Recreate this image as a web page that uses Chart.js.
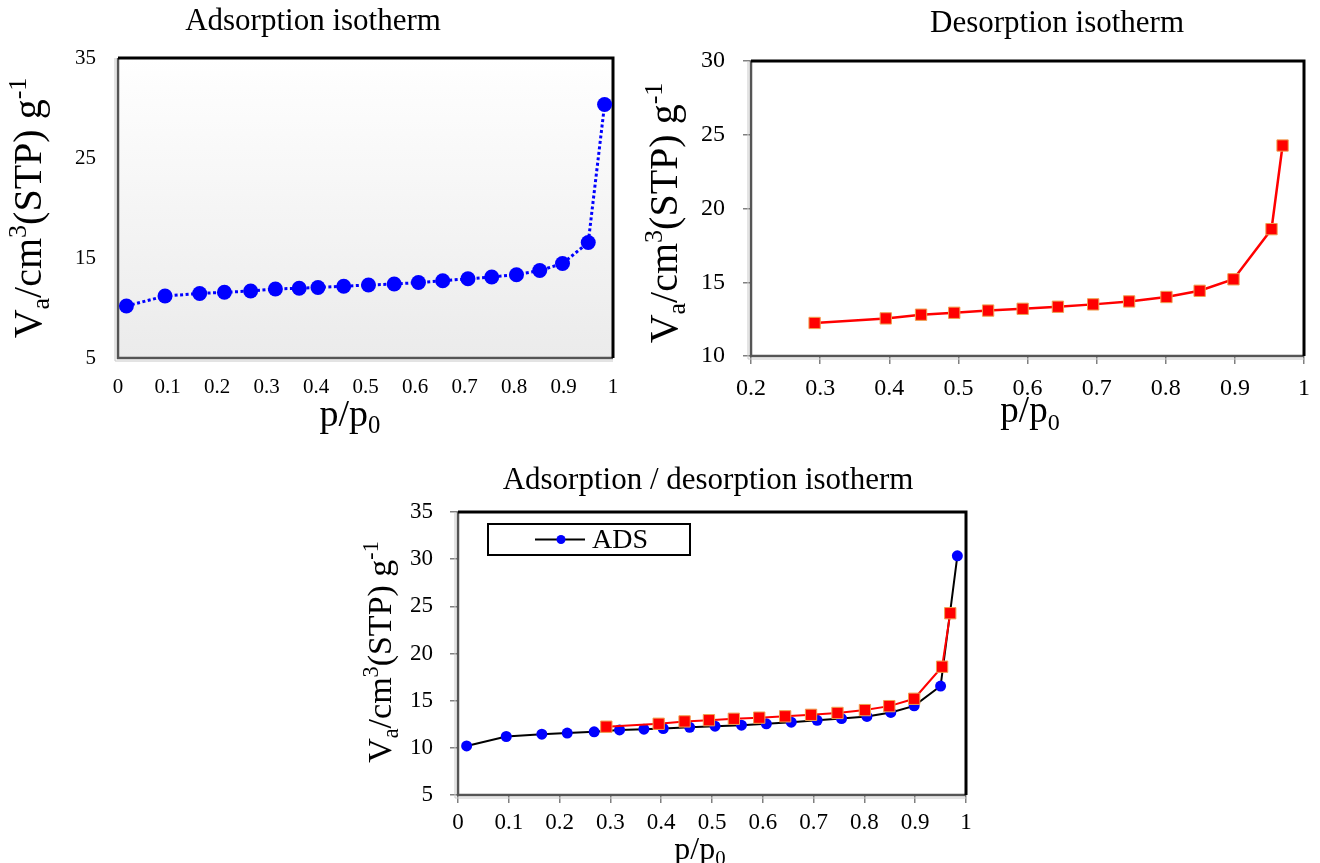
<!DOCTYPE html>
<html lang="en">
<head>
<meta charset="UTF-8">
<title>Isotherms</title>
<script src="https://cdn.jsdelivr.net/npm/chart.js"></script>
<style>
  body { margin: 0; background: #fff; }
  .wrap { position: relative; width: 1320px; height: 863px; }
  .wrap canvas { position: absolute; left: 0; top: 0; }
</style>
</head>
<body>
<div class="wrap">
  <canvas id="grafAds" width="1320" height="863"></canvas>
  <canvas id="grafDes" width="1320" height="863"></canvas>
  <canvas id="grafAmbos" width="1320" height="863"></canvas>
</div>
<script>
// adsorption branch: p/p0 and Va (cm3 STP / g)
const adsX = [0.017, 0.095, 0.165, 0.215, 0.268, 0.318, 0.366, 0.404, 0.456, 0.506,
              0.558, 0.607, 0.656, 0.707, 0.755, 0.805, 0.852, 0.898, 0.950, 0.983];
const adsY = [10.2, 11.2, 11.45, 11.57, 11.7, 11.9, 11.98, 12.05, 12.18, 12.3,
              12.4, 12.55, 12.72, 12.92, 13.1, 13.33, 13.75, 14.45, 16.55, 30.35];

// desorption branch
const desX = [0.292, 0.395, 0.446, 0.494, 0.543, 0.593, 0.644, 0.695, 0.747, 0.801,
              0.849, 0.898, 0.953, 0.969];
const desY = [12.24, 12.55, 12.8, 12.93, 13.08, 13.2, 13.34, 13.5, 13.7, 14.0,
              14.42, 15.2, 18.6, 24.27];

// tick labels
const xTicks01 = ['0', '0.1', '0.2', '0.3', '0.4', '0.5', '0.6', '0.7', '0.8', '0.9', '1'];
const xTicks21 = ['0.2', '0.3', '0.4', '0.5', '0.6', '0.7', '0.8', '0.9', '1'];
const yTicksAds = ['5', '15', '25', '35'];
const yTicksDes = ['10', '15', '20', '25', '30'];
const yTicksBoth = ['5', '10', '15', '20', '25', '30', '35'];

const serif = '"Liberation Serif", "Times New Roman", serif';
const yTitle = [['V'], ['a', 'sub'], ['/cm'], ['3', 'sup'], ['(STP) g'], ['-1', 'sup']];
const xTitle = [['p/p'], ['0', 'sub']];

function pontos(xs, ys) {
  return xs.map((x, i) => ({ x: x, y: ys[i] }));
}

// text with sub/superscripts, centred on (cx, cy)
function escreve(ctx, parts, cx, cy, size, rot) {
  ctx.save();
  ctx.translate(cx, cy);
  if (rot) ctx.rotate(-Math.PI / 2);
  ctx.fillStyle = '#000';
  ctx.textBaseline = 'alphabetic';
  ctx.textAlign = 'left';
  let total = 0;
  const pedacos = parts.map(p => {
    const s = p[1] ? size * 0.65 : size;
    ctx.font = s + 'px ' + serif;
    const w = ctx.measureText(p[0]).width;
    total += w;
    let dy = 0;
    if (p[1] === 'sub') dy = size * 0.2;
    if (p[1] === 'sup') dy = -size * 0.38;
    return { t: p[0], s: s, w: w, dy: dy };
  });
  let x = -total / 2;
  const base = size * 0.33;
  pedacos.forEach(m => {
    ctx.font = m.s + 'px ' + serif;
    ctx.fillText(m.t, x, base + m.dy);
    x += m.w;
  });
  ctx.restore();
}

// frame + optional grey gradient + titles
function enfeites(cfg) {
  return {
    id: 'enfeites',
    beforeDatasetsDraw(chart) {
      const ctx = chart.ctx;
      const a = chart.chartArea;
      ctx.save();
      if (cfg.fundo) {
        const g = ctx.createLinearGradient(0, a.top, 0, a.bottom);
        g.addColorStop(0, '#ffffff');
        g.addColorStop(1, '#ebebeb');
        ctx.fillStyle = g;
        ctx.fillRect(a.left, a.top, a.right - a.left, a.bottom - a.top);
      }
      // light shadow lines left / bottom
      ctx.strokeStyle = '#c8c8c8';
      ctx.lineWidth = 1;
      ctx.beginPath();
      ctx.moveTo(a.left - 3, a.top);
      ctx.lineTo(a.left - 3, a.bottom + 3);
      ctx.lineTo(a.right, a.bottom + 3);
      ctx.stroke();
      // dark grey left / bottom
      ctx.strokeStyle = '#555555';
      ctx.lineWidth = 2.5;
      ctx.beginPath();
      ctx.moveTo(a.left, a.top);
      ctx.lineTo(a.left, a.bottom);
      ctx.lineTo(a.right, a.bottom);
      ctx.stroke();
      // black top / right
      ctx.strokeStyle = '#000000';
      ctx.lineWidth = 3;
      ctx.beginPath();
      ctx.moveTo(a.left, a.top);
      ctx.lineTo(a.right, a.top);
      ctx.lineTo(a.right, a.bottom);
      ctx.stroke();
      ctx.restore();
    },
    afterDraw(chart) {
      const ctx = chart.ctx;
      ctx.save();
      ctx.fillStyle = '#000';
      ctx.font = cfg.titulo[3] + 'px ' + serif;
      ctx.textAlign = 'center';
      ctx.textBaseline = 'middle';
      ctx.fillText(cfg.titulo[0], cfg.titulo[1], cfg.titulo[2]);
      ctx.restore();
      escreve(ctx, yTitle, cfg.yt[0], cfg.yt[1], cfg.yt[2], true);
      escreve(ctx, xTitle, cfg.xt[0], cfg.xt[1], cfg.xt[2], false);
      if (cfg.legenda) {
        const L = cfg.legenda;
        ctx.save();
        ctx.fillStyle = '#fff';
        ctx.fillRect(L.x, L.y, L.w, L.h);
        ctx.strokeStyle = '#000';
        ctx.lineWidth = 2;
        ctx.strokeRect(L.x, L.y, L.w, L.h);
        const my = L.y + L.h / 2;
        ctx.beginPath();
        ctx.moveTo(L.x + 47, my);
        ctx.lineTo(L.x + 97, my);
        ctx.stroke();
        ctx.fillStyle = '#0000ff';
        ctx.beginPath();
        ctx.arc(L.x + 73, my, 4.5, 0, Math.PI * 2);
        ctx.fill();
        ctx.fillStyle = '#000';
        ctx.font = '28px ' + serif;
        ctx.textBaseline = 'middle';
        ctx.fillText('ADS', L.x + 104, my + 1);
        ctx.restore();
      }
    }
  };
}

function eixoX(min, max, step, labels, size, tick, pad, h) {
  return {
    type: 'linear', min: min, max: max,
    afterFit: s => { s.height = h; },
    grid: { display: tick > 0, drawOnChartArea: false, drawTicks: tick > 0, tickLength: tick, color: '#808080', lineWidth: 1.5 },
    border: { display: false },
    ticks: { stepSize: step, padding: pad, color: '#000', maxRotation: 0, autoSkip: false,
             font: { family: serif, size: size }, callback: (v, i) => labels[i] }
  };
}

function eixoY(min, max, step, labels, size, tick, pad, w) {
  return {
    type: 'linear', min: min, max: max,
    afterFit: s => { s.width = w; },
    grid: { display: tick > 0, drawOnChartArea: false, drawTicks: tick > 0, tickLength: tick, color: '#808080', lineWidth: 1.5 },
    border: { display: false },
    ticks: { stepSize: step, padding: pad, color: '#000', autoSkip: false,
             font: { family: serif, size: size }, callback: (v, i) => labels[i] }
  };
}

function base(padding, scales) {
  return {
    responsive: false,
    animation: false,
    devicePixelRatio: 1,
    layout: { padding: padding, autoPadding: false },
    plugins: { legend: { display: false }, tooltip: { enabled: false }, title: { display: false } },
    scales: scales
  };
}

// top left: adsorption
new Chart(document.getElementById('grafAds'), {
  type: 'scatter',
  data: {
    datasets: [{
      label: 'ADS',
      data: pontos(adsX, adsY),
      showLine: true,
      borderColor: '#0000ff',
      borderWidth: 3,
      borderDash: [3, 2.5],
      pointRadius: 7.5,
      pointBackgroundColor: '#0000ff',
      pointBorderWidth: 0
    }]
  },
  options: base({ left: 0, top: 58, right: 707, bottom: 0 }, {
    x: eixoX(0, 1, 0.1, xTicks01, 21, 0, 17, 505),
    y: eixoY(5, 35, 10, yTicksAds, 21, 0, 22, 118)
  }),
  plugins: [enfeites({ fundo: true, titulo: ['Adsorption isotherm', 313, 22, 31], yt: [28, 208, 40], xt: [350, 413, 38] })]
});

// top right: desorption
new Chart(document.getElementById('grafDes'), {
  type: 'scatter',
  data: {
    datasets: [{
      label: 'DES',
      data: pontos(desX, desY),
      showLine: true,
      borderColor: '#ff0000',
      borderWidth: 2.5,
      pointStyle: 'rect',
      pointRadius: 8,
      pointBackgroundColor: '#ff0000',
      pointBorderColor: '#f0a050',
      pointBorderWidth: 1
    }]
  },
  options: base({ left: 0, top: 61, right: 15, bottom: 0 }, {
    x: eixoX(0.2, 1, 0.1, xTicks21, 24, 8, 10, 507),
    y: eixoY(10, 30, 5, yTicksDes, 24, 8, 18, 751)
  }),
  plugins: [enfeites({ fundo: false, titulo: ['Desorption isotherm', 1057, 24, 31], yt: [664, 213, 40], xt: [1030, 410, 37] })]
});

// bottom: both branches
new Chart(document.getElementById('grafAmbos'), {
  type: 'scatter',
  data: {
    datasets: [{
      label: 'DES',
      data: pontos(desX, desY),
      showLine: true,
      borderColor: '#ff0000',
      borderWidth: 2,
      pointStyle: 'rect',
      pointRadius: 8,
      pointBackgroundColor: '#ff0000',
      pointBorderColor: '#f0a050',
      pointBorderWidth: 1
    }, {
      label: 'ADS',
      data: pontos(adsX, adsY),
      showLine: true,
      borderColor: '#000000',
      borderWidth: 2,
      pointRadius: 5.5,
      pointBackgroundColor: '#0000ff',
      pointBorderColor: '#0000ff',
      pointBorderWidth: 0
    }]
  },
  options: base({ left: 0, top: 512, right: 354, bottom: 0 }, {
    x: eixoX(0, 1, 0.1, xTicks01, 23, 8, 6, 68),
    y: eixoY(5, 35, 5, yTicksBoth, 23, 8, 17, 458)
  }),
  plugins: [enfeites({ fundo: false, titulo: ['Adsorption / desorption isotherm', 708, 481, 31], yt: [380, 652, 34], xt: [700, 848, 32],
                       legenda: { x: 488, y: 524, w: 202, h: 31 } })]
});
</script>
</body>
</html>
